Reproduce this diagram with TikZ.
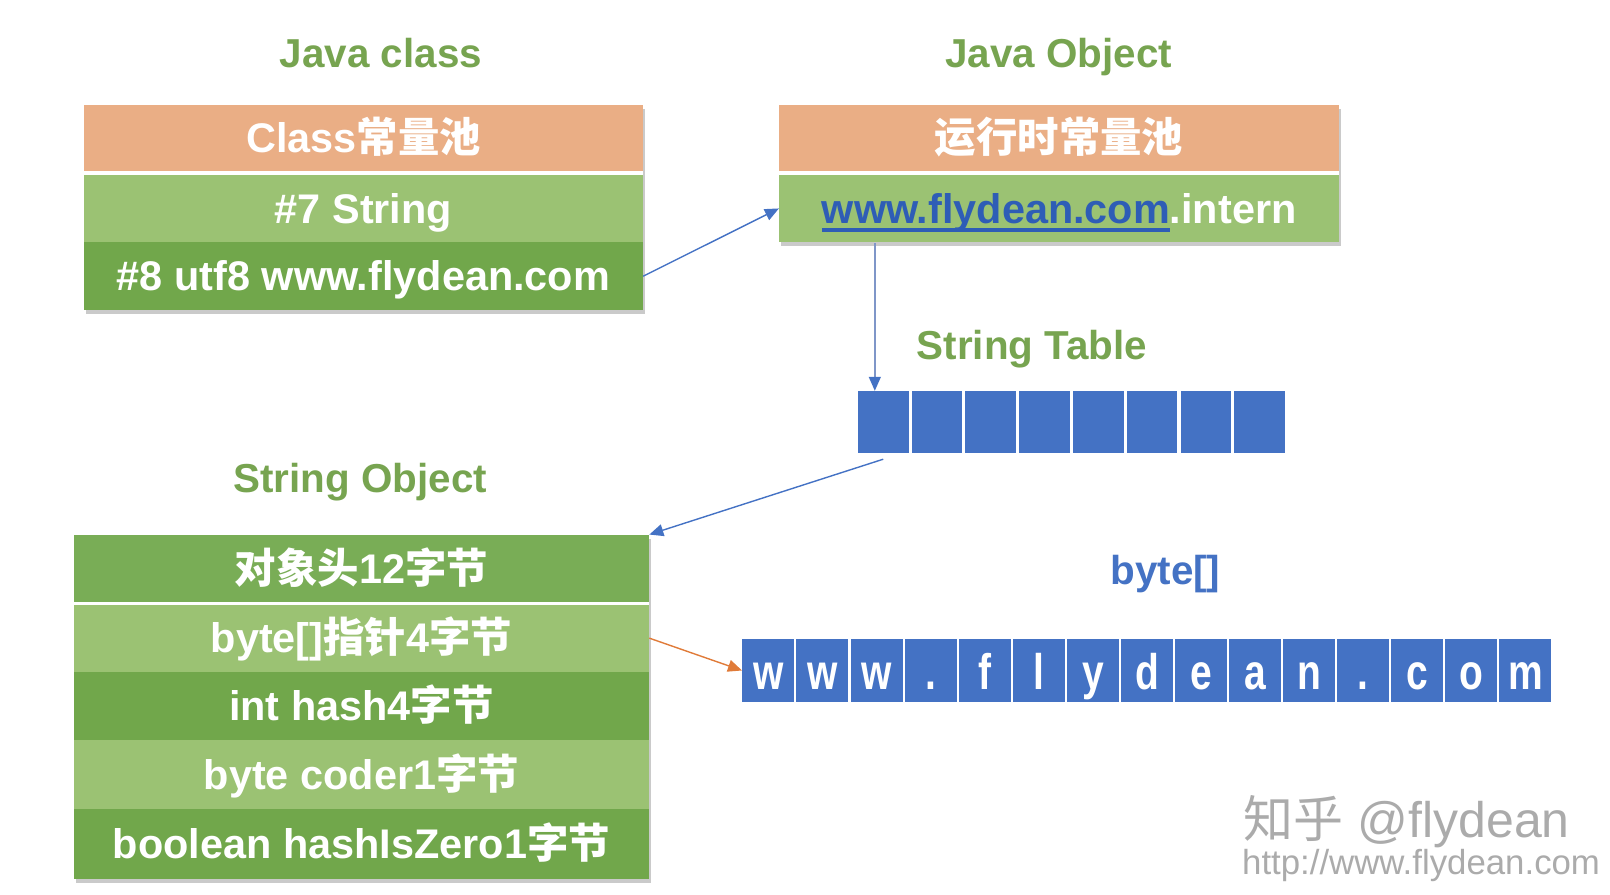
\documentclass[tikz,border=0pt]{standalone}
\usepackage{fontspec}
\setmainfont{Liberation Sans}
\newfontfamily\cjk{Noto Sans CJK SC}
\usetikzlibrary{arrows.meta,shadows}
\definecolor{hdr}{HTML}{EAAE85}
\definecolor{gLight}{HTML}{9BC273}
\definecolor{gDark}{HTML}{71A74B}
\definecolor{gMid}{HTML}{79AD56}
\definecolor{ttl}{HTML}{77A450}
\definecolor{bl}{HTML}{4472C4}
\definecolor{lnk}{HTML}{2E5DB6}
\definecolor{arrgray}{HTML}{7F96C8}
\definecolor{org}{HTML}{E07B39}
\definecolor{wm}{HTML}{ABABAB}
\newcommand\zh[1]{{\cjk #1}}
\newsavebox\ulbox
\newcommand\thickul[1]{\sbox\ulbox{#1}\rlap{\usebox\ulbox}\rule[-0.2em]{\wd\ulbox}{0.075em}}
\tikzset{
  title/.style={font=\fontsize{20.2}{24}\selectfont\bfseries, text=ttl, inner sep=0pt, text height=14.5pt, text depth=0pt},
  rowbox/.style={inner sep=0pt, text=white, font=\fontsize{20.7}{24}\selectfont\bfseries, text height=14.8pt, text depth=0pt},
  cellbox/.style={fill=bl, inner sep=0pt, minimum width=25.35pt, minimum height=30.8pt},
  bytecell/.style={fill=bl, inner sep=0pt, minimum width=26pt, minimum height=31.83pt, text=white,
    font=\fontsize{25}{27}\selectfont\bfseries, text height=22pt, text depth=2.5pt},
  conn/.style={draw=bl, line width=0.7pt, -{Triangle[length=7pt,width=6pt]}},
  boxshadow/.style={fill=white, drop shadow={shadow xshift=1pt, shadow yshift=-2pt, opacity=0.35, fill=black!60}}
}
\begin{document}
\begin{tikzpicture}[x=0.51339pt,y=-0.51339pt]
\useasboundingbox (0,0) rectangle (1568,870.7);

% titles
\node[title] (tjc) at (371,52) {Java class};
\node[title] (tjo) at (1031,52) {Java Object};
\node[title] (tst) at (1005,336) {String Table};
\node[title] (tso) at (351,466) {String Object};
\node[title, text=bl] (tby) at (1135,555) {byte[]};

% Class constant pool box
\fill[boxshadow] (82,102) rectangle (626,302);
\node[rowbox, fill=hdr, minimum width=279.3pt, minimum height=33.37pt] (c1) at (354,134.5) {Class\zh{常量池}};
\node[rowbox, fill=gLight, minimum width=279.3pt, minimum height=33.88pt] (c2) at (354,203) {\#7 String};
\node[rowbox, fill=gDark, minimum width=279.3pt, minimum height=33.88pt] (c3) at (354,269) {\#8 utf8 www.flydean.com};

% Runtime constant pool box
\fill[boxshadow] (759,102) rectangle (1304,236);
\node[rowbox, fill=hdr, minimum width=279.8pt, minimum height=33.37pt] (o1) at (1031.5,134.5) {\zh{运行时常量池}};
\node[rowbox, fill=gLight, minimum width=279.8pt, minimum height=33.88pt] (o2) at (1031.5,203) {{\color{lnk}\thickul{www.flydean.com}}.intern};

% String table
\foreach \i in {1,...,8} {
  \node[cellbox] (st\i) at ({834+52.375*(\i-0.5)},411) {};
}

% String Object box
\fill[boxshadow] (72,521) rectangle (632,856);
\node[rowbox, fill=gMid, minimum width=287.5pt, minimum height=33.37pt] (so1) at (352,553.5) {\zh{对象头}12\zh{字节}};
\node[rowbox, fill=gLight, minimum width=287.5pt, minimum height=33.37pt] (so2) at (352,621.5) {byte[]\zh{指针}4\zh{字节}};
\node[rowbox, fill=gDark, minimum width=287.5pt, minimum height=34.4pt] (so3) at (352,687.5) {int hash4\zh{字节}};
\node[rowbox, fill=gLight, minimum width=287.5pt, minimum height=34.4pt] (so4) at (352,754.5) {byte coder1\zh{字节}};
\node[rowbox, fill=gDark, minimum width=287.5pt, minimum height=34.9pt] (so5) at (352,822) {boolean hashIsZero1\zh{字节}};

% byte array
\foreach \c [count=\i] in {w,w,w,.,f,l,y,d,e,a,n,.,c,o,m} {
  \node[bytecell] (b\i) at ({722+52.667*(\i-0.5)},653) {\scalebox{0.78}[1]{\c}};
}

% connectors
\coordinate (a2s) at (852,237);
\draw[conn] (c3.east) -- (o2.west);
\draw[draw=arrgray, line width=0.7pt, -{Triangle[length=7pt,width=6pt,color=bl]}] (a2s) -- (a2s |- st1.north);
\draw[conn] ([yshift=-3pt]st1.south) -- (so1.north east);
\draw[conn, draw=org] (so2.east) -- (b1.west);

% watermark
\node[text=wm, inner sep=0pt, font=\fontsize{25}{28}\selectfont] (wm1) at (1370,800) {\zh{知乎} @flydean};
\node[text=wm, inner sep=0pt, font=\fontsize{17.4}{20}\selectfont] (wm2) at (1384,843) {http://www.flydean.com};
\end{tikzpicture}
\end{document}
